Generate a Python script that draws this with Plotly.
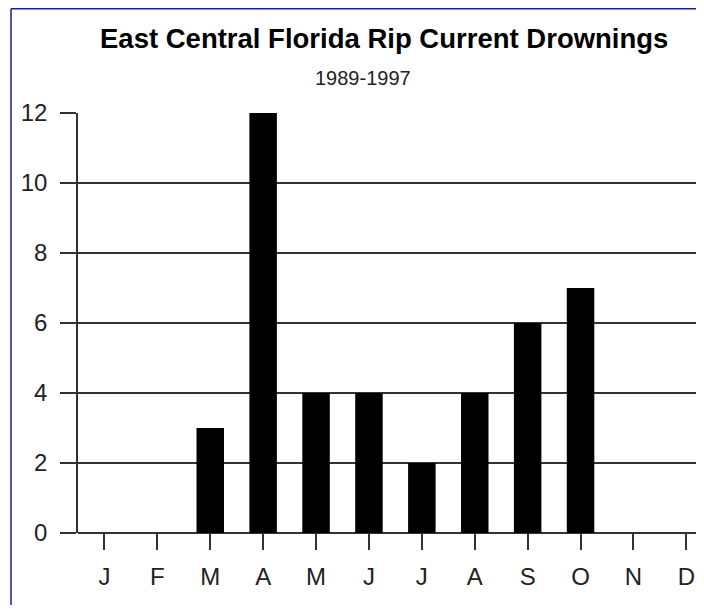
import plotly.graph_objects as go

# Data
month_labels = ["J", "F", "M", "A", "M", "J", "J", "A", "S", "O", "N", "D"]
month_index = list(range(12))
drownings = [0, 0, 3, 12, 4, 4, 2, 4, 6, 7, 0, 0]
y_ticks = [0, 2, 4, 6, 8, 10, 12]

title_text = "East Central Florida Rip Current Drownings"
subtitle_text = "1989-1997"

FONT = "Liberation Sans, Arial, sans-serif"
# page body has an 8px default margin, so the figure is sized to fit the window
W, H = 696, 597
ML, MR, MT, MB = 70, 0, 105, 72
PW = W - ML - MR
PH = H - MT - MB


def px_to_paper_x(px):
    return (px - ML) / PW


def px_to_paper_y(py):
    return (H - MB - py) / PH


BORDER = dict(color="#1a1a9a", width=1.5)

fig = go.Figure()
fig.add_trace(go.Bar(
    x=month_index,
    y=drownings,
    width=0.52,
    marker=dict(color="#000000", line=dict(width=0)),
    hoverinfo="x+y",
))

fig.update_layout(
    width=W,
    height=H,
    margin=dict(l=ML, r=MR, t=MT, b=MB, pad=0),
    paper_bgcolor="white",
    plot_bgcolor="white",
    showlegend=False,
    font=dict(family=FONT, color="#222222"),
    xaxis=dict(
        range=[-0.5, -0.5 + PW / 52.9],
        tickmode="array",
        tickvals=month_index,
        ticktext=month_labels,
        ticks="outside",
        ticklen=16,
        tickwidth=1.5,
        tickcolor="#333333",
        showgrid=False,
        zeroline=False,
        showline=False,
        tickfont=dict(size=24, family=FONT, color="#222222"),
        ticklabelstandoff=6,
        fixedrange=True,
    ),
    yaxis=dict(
        range=[0, 12.001],
        tickmode="array",
        tickvals=y_ticks,
        ticks="outside",
        ticklen=16,
        tickwidth=1.5,
        tickcolor="#333333",
        showgrid=True,
        gridcolor="#333333",
        gridwidth=1.5,
        zeroline=True,
        zerolinecolor="#333333",
        zerolinewidth=1.5,
        showline=True,
        linecolor="#333333",
        linewidth=1.5,
        tickfont=dict(size=24, family=FONT, color="#222222"),
        ticklabelstandoff=8,
        fixedrange=True,
    ),
    shapes=[
        dict(
            type="line", xref="paper", yref="paper",
            x0=px_to_paper_x(3), x1=px_to_paper_x(3),
            y0=px_to_paper_y(H), y1=px_to_paper_y(0.8),
            line=BORDER, layer="below",
        ),
        dict(
            type="line", xref="paper", yref="paper",
            x0=px_to_paper_x(3), x1=px_to_paper_x(W),
            y0=px_to_paper_y(0.8), y1=px_to_paper_y(0.8),
            line=BORDER, layer="below",
        ),
    ],
    annotations=[
        dict(
            text="<b>" + title_text + "</b>",
            xref="paper", yref="paper",
            x=px_to_paper_x(375.5), y=px_to_paper_y(31),
            xanchor="center", yanchor="middle",
            showarrow=False,
            font=dict(size=27.5, family=FONT, color="#000000"),
        ),
        dict(
            text=subtitle_text,
            xref="paper", yref="paper",
            x=px_to_paper_x(355), y=px_to_paper_y(70),
            xanchor="center", yanchor="middle",
            showarrow=False,
            font=dict(size=20, family=FONT, color="#222222"),
        ),
    ],
)

fig.write_html("out.html")
